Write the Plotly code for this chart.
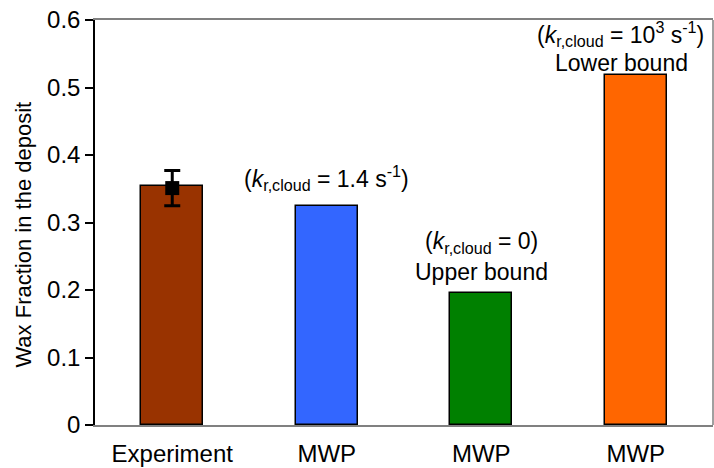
import plotly.graph_objects as go

categories = ["Experiment", "MWP", "MWP", "MWP"]
wax_fraction = [0.354, 0.324, 0.196, 0.519]
exp_mean = [0.351]
exp_err = [0.026]
y_ticks = [0, 0.1, 0.2, 0.3, 0.4, 0.5, 0.6]
y_tick_labels = ["0", "0.1", "0.2", "0.3", "0.4", "0.5", "0.6"]

bar_colors = ["#993300", "#3366FF", "#008000", "#FF6600"]
positions = list(range(len(categories)))

FONT = "Liberation Sans, Arial, sans-serif"

fig = go.Figure()
fig.add_trace(go.Bar(
    x=positions, y=wax_fraction, width=0.4,
    marker=dict(color=bar_colors, line=dict(color="black", width=1.5)),
    showlegend=False, hoverinfo="skip",
))
fig.add_trace(go.Scatter(
    x=[0], y=exp_mean, mode="markers",
    marker=dict(symbol="square", size=14, color="black"),
    error_y=dict(type="data", array=exp_err, color="black", thickness=3, width=8),
    showlegend=False,
))

ann_font = dict(family=FONT, size=23, color="black")
k = "(<i>k</i><sub>r,cloud</sub>"
annotations = [
    dict(x=1, y=wax_fraction[1], text=k + " = 1.4 s<sup>-1</sup>)", yshift=28),
    dict(x=2, y=wax_fraction[2], text=k + " = 0)", yshift=50),
    dict(x=2, y=wax_fraction[2], text="Upper bound", yshift=21),
    dict(x=3, y=wax_fraction[3], text=k + " = 10<sup>3</sup> s<sup>-1</sup>)", yshift=41, xshift=-15),
    dict(x=3, y=wax_fraction[3], text="Lower bound", yshift=12, xshift=-14),
]
for a in annotations:
    fig.add_annotation(xref="x", yref="y", showarrow=False, yanchor="middle",
                       font=ann_font, **a)

# y-axis title
fig.add_annotation(xref="paper", yref="paper", x=-0.115, y=0.47, xanchor="center",
                   yanchor="middle", showarrow=False, textangle=-90,
                   text="Wax Fraction in the deposit",
                   font=dict(family=FONT, size=22, color="black"))

fig.add_shape(type="line", xref="paper", yref="paper", x0=1, x1=1, y0=0, y1=1,
              line=dict(color="#808080", width=1.5))

fig.update_layout(
    width=714, height=468,
    margin=dict(l=95, r=1, t=20, b=43),
    paper_bgcolor="white", plot_bgcolor="white",
    font=dict(family=FONT, size=20, color="black"),
    bargap=0,
)
fig.update_xaxes(
    range=[-0.5, 3.5], tickvals=positions, ticktext=categories,
    showline=True, linecolor="#808080", linewidth=1.5, mirror=True,
    ticks="", showgrid=False, zeroline=False,
    tickfont=dict(family=FONT, size=24), ticklabelstandoff=6,
)
fig.update_yaxes(
    range=[0, 0.6], tickvals=y_ticks, ticktext=y_tick_labels,
    showline=True, linecolor="black", linewidth=1.5,
    ticks="outside", ticklen=8, tickcolor="black", tickwidth=1.5,
    showgrid=False, zeroline=False,
    tickfont=dict(family=FONT, size=24),
)

fig.write_html("out.html")
